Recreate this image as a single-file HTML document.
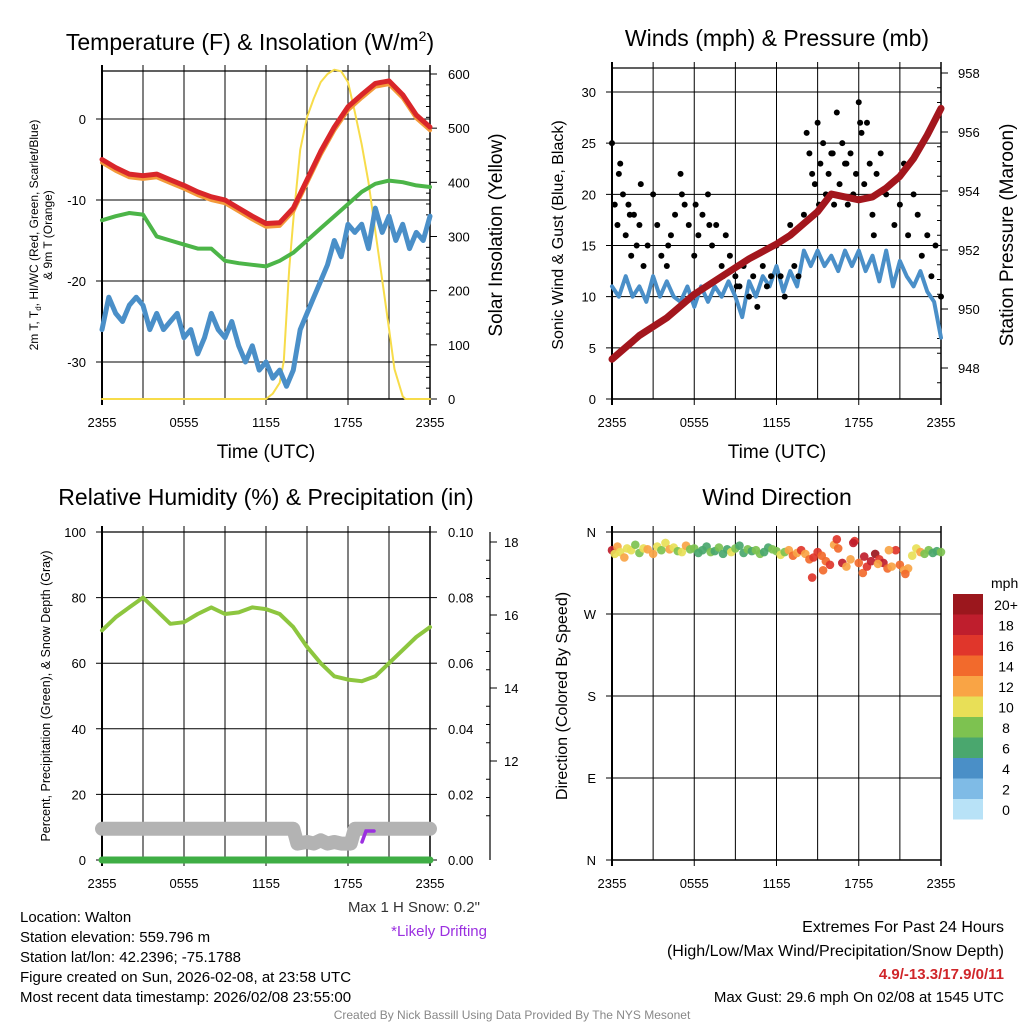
<!DOCTYPE html>
<html><head><meta charset="utf-8"><style>
html,body{margin:0;padding:0;background:#fff}
svg{display:block;font-family:"Liberation Sans",sans-serif}
</style></head><body>
<svg id="c" width="1024" height="1024" viewBox="0 0 1024 1024">
<g id="static"></g>
</svg>
<script>
// ===== data =====
// Panel 1: temperature (F)
const tempHours = [0,1,2,3,4,5,6,7,8,9,10,11,12,13,14,15,16,17,18,19,20,21,22,23,24];
const tempRed = [-5,-6,-6.8,-7,-6.8,-7.5,-8.2,-9,-9.6,-10,-11,-12,-12.9,-12.8,-11,-7.5,-4,-1,1.5,3,4.4,4.7,3,0.5,-1];
const dewGreen = [-12.5,-12,-11.6,-11.8,-14.5,-15,-15.5,-16,-16,-17.5,-17.8,-18,-18.2,-17.5,-16.5,-15,-13.5,-12,-10.5,-9,-8,-7.6,-7.8,-8.2,-8.4];
const wcHours = [0,0.5,1,1.5,2,2.5,3,3.5,4,4.5,5,5.5,6,6.5,7,7.5,8,8.5,9,9.5,10,10.5,11,11.5,12,12.5,13,13.5,14,14.5,15,15.5,16,16.5,17,17.5,18,18.5,19,19.5,20,20.5,21,21.5,22,22.5,23,23.5,24];
const wcBlue = [-26,-22,-24,-25,-23,-22,-23,-26,-24,-26,-25,-24,-27,-26,-29,-27,-24,-26,-27,-25,-28,-30,-28,-31,-30,-32,-31,-33,-31,-26,-24,-22,-20,-18,-15,-17,-13,-14,-13,-16,-11,-14,-12,-15,-13,-16,-14,-15,-12];
const solHours = [0,12,12.5,13,13.3,13.7,14,14.5,15,15.5,16,16.5,17,17.5,18,18.5,19,19.5,20,20.5,21,21.4,22,22.2,24];
const solar = [0,0,10,30,70,240,330,460,520,555,585,600,608,605,585,530,470,400,310,220,130,55,5,0,0];
// Panel 2: wind & pressure
const windHours = wcHours;
const windBlue = [11,10,12,10,11,9.5,12,10,11.5,10,9.5,11,9,11,9.5,11,10,11.5,10,8,11.5,10,12,11,13,10.5,12.5,11,14.5,13,14.5,13,14,12.5,14.5,13,14.5,12.5,14,11.5,14.5,11,13.5,12,11,12.5,10.5,9.5,6];
const presHours = [0,2,4,6,8,10,12,13,14,15,16,17,18,19,20,21,22,23,24];
const pressure = [948.3,949.1,949.7,950.5,951.1,951.7,952.2,952.5,952.9,953.3,953.9,953.8,953.7,953.8,954.1,954.5,955.1,955.9,956.8];
const gustHours = [0,0.2,0.4,0.6,0.8,1,1.2,1.4,1.6,1.8,2,2.3,2.6,3,3.3,3.6,4,4.3,4.6,5,5.3,5.6,6,6.3,6.6,7,7.3,7.6,8,8.3,8.6,9,9.3,9.6,10,10.3,10.6,11,11.3,11.6,12,12.3,12.6,13,13.3,13.6,14,14.2,14.4,14.6,14.8,15,15.2,15.4,15.6,15.8,16,16.2,16.4,16.6,16.8,17,17.2,17.4,17.6,17.8,18,18.2,18.4,18.6,18.8,19,19.3,19.6,20,20.3,20.6,21,21.3,21.6,22,22.3,22.6,23,23.3,23.6,24,0.5,1.3,2.1,4.1,5.1,6.1,7.1,8.1,9.1,15.1,16.1,17.1,18.1,19.1];
const gustVals = [25,19,17,23,20,16,19,14,18,15,17,13,15,20,17,14,13,16,18,22,19,17,14,16,18,20,15,17,13,16,14,12,11,13,10,12,9,13,11,12,15,12,10,17,13,12,18,26,24,22,21,27,23,25,20,22,24,19,28,21,25,23,19,24,20,22,29,26,21,27,23,18,22,24,20,21,17,19,23,16,20,18,14,16,12,15,10,22,18,21,15,20,19,17,12,11,19,24,23,27,16];
// Panel 3: RH, precip, snow
const rhHours = tempHours;
const rh = [70,74,77,80,76,72,72.5,75,77,75,75.5,77,76.5,75,71,65,60,56,55,54.5,56,60,64,68,71];
const snowHours = [0,14,14.3,15,15.5,16,16.5,17,17.5,18.2,18.5,24];
const snowDepthPct = [9.5,9.5,5,5.5,5,6,5,5.5,5,5,9.5,9.5];
const precipHours = [0,24];
const precip = [0,0];
// Panel 4: direction dots [hour, dir deg, speed mph]
const dirHours = [0,0.2,0.4,0.6,0.9,1.1,1.4,1.7,2,2.3,2.6,3,3.3,3.6,3.9,4.2,4.5,4.8,5.1,5.4,5.7,6,6.3,6.6,6.9,7.2,7.5,7.8,8.1,8.4,8.7,9,9.3,9.6,9.9,10.2,10.5,10.8,11.1,11.4,11.7,12,12.3,12.6,12.9,13.2,13.5,13.8,14.1,14.4,14.7,15,15.3,15.6,15.9,16.2,16.5,16.8,17.1,17.4,17.7,18,18.3,18.6,18.9,19.2,19.5,19.8,20.1,20.4,20.7,21,21.3,21.6,21.9,22.2,22.5,22.8,23.1,23.4,23.7,24,16.4,17.6,18.4,14.6,15.4,19.4,20.2,21.4];
const dirDeg = [340,336,344,338,332,342,340,346,337,342,341,336,344,340,348,341,343,339,338,345,341,342,337,340,344,338,339,343,336,341,338,342,345,337,341,339,340,336,338,343,341,339,335,338,340,334,337,340,336,330,332,338,334,328,324,346,342,326,322,330,350,326,315,322,328,336,330,326,320,322,340,324,318,320,334,342,338,336,340,337,339,338,352,348,333,310,318,325,340,314];
const dirSpd = [18,11,12,10,13,10,11,9,8,10,13,12,11,9,10,12,11,8,10,12,9,8,7,7,6,9,7,8,6,7,10,8,7,6,8,7,9,8,7,6,8,9,10,8,12,14,13,16,13,15,16,17,15,14,16,13,15,18,12,13,17,15,14,16,19,20,17,18,15,13,16,14,13,12,10,11,12,9,8,6,7,8,16,18,19,16,15,12,13,14];
const cbLabels = ["20+","18","16","14","12","10","8","6","4","2","0"];
const cbColors = ["#9b171d","#bf1e2d","#e0362b","#f26a2c","#f9a445","#e8df57","#7dc250","#4aa76e","#4a8fc7","#7fbbe6","#b8e2f7"];
const xTickLabels = ["2355","0555","1155","1755","2355"];

// ===== helpers =====
const NS="http://www.w3.org/2000/svg";
const svg=document.getElementById('c');
function mk(tag,attrs,parent){const e=document.createElementNS(NS,tag);for(const k in attrs)e.setAttribute(k,attrs[k]);(parent||svg).appendChild(e);return e;}
function txt(s,x,y,size,anchor,name,extra){const e=mk('text',Object.assign({x:x,y:y,'font-size':size,'text-anchor':anchor||'start',fill:'#000'},extra||{}));e.textContent=s;


return e;}
function line(x1,y1,x2,y2,stroke,w,name){const e=mk('line',{x1:x1,y1:y1,x2:x2,y2:y2,stroke:stroke,'stroke-width':w});


return e;}
function poly(xs,ys,fx,fy,stroke,w,name){const d=xs.map((h,i)=>fx(h).toFixed(1)+','+fy(ys[i]).toFixed(1)).join(' ');const e=mk('polyline',{points:d,fill:'none',stroke:stroke,'stroke-width':w,'stroke-linejoin':'round','stroke-linecap':'round'});


return e;}
function frame(x0,y0,x1,y1,name){
  for(let i=1;i<8;i++){const x=x0+(x1-x0)*i/8;line(x,y0-6,x,y1,'#000',1,name+'-vgrid');}
  line(x0,y0,x1,y0,'#000',1.2,name+'-top-border');
  line(x0,y1,x1,y1,'#000',1.5,name+'-bottom-axis');
  line(x0,y0-6,x0,y1+6,'#000',2,name+'-left-axis');
  line(x1,y0-6,x1,y1+6,'#000',1.5,name+'-right-axis');
  xTickLabels.forEach((s,i)=>{const x=x0+(x1-x0)*i/4;line(x,y1,x,y1+6,'#000',1,name+'-xtick');txt(s,x,y1+28,13,'middle',name+'-xtick-label');});
}
// ===== Panel 1 =====
const P1={x0:102,x1:430,yT:71};
const x1f=h=>P1.x0+h/24*(P1.x1-P1.x0);
const t1=v=>119-v*8.1;
const s1=v=>399-v*325/600;
frame(102,71,430,399,'temp-panel');
[0,-10,-20,-30].forEach(v=>{line(96,t1(v),430,t1(v),'#000',1,'temp-hgrid');txt(String(v),86,t1(v)+5,13,'end','temp-ytick-label');});
[0,100,200,300,400,500,600].forEach(v=>{line(430,s1(v),437,s1(v),'#000',1,'solar-tick');txt(String(v),448,s1(v)+5,13,'start','solar-ytick-label');});
for(let v=20;v<611;v+=20){if(v%100)line(430,s1(v),426,s1(v),'#000',1,'solar-minor-tick');}
poly(solHours,solar,x1f,s1,'#f7dc4a',2,'solar-insolation-line');
poly(wcHours,wcBlue,x1f,t1,'#4a8fc8',5,'windchill-line');
poly(tempHours,dewGreen,x1f,t1,'#4cb548',4,'dewpoint-line');
poly(tempHours,tempRed.map(v=>v-0.4),x1f,t1,'#f39a3a',4,'temp-9m-line');
poly(tempHours,tempRed,x1f,t1,'#d9262a',5,'temp-2m-line');
txt('Temperature (F) & Insolation (W/m',250,50,23,'middle','temp-panel-title').innerHTML='Temperature (F) &amp; Insolation (W/m<tspan font-size="14" dy="-9">2</tspan><tspan dy="9">)</tspan>';
txt('Time (UTC)',266,458,19,'middle','temp-x-title');
txt('Solar Insolation (Yellow)',502,235,19,'middle','solar-y-title',{transform:'rotate(-90 502 235)'});
const yl=txt('',0,0,12,'middle','temp-y-title',{transform:'translate(38 235) rotate(-90)'});
yl.innerHTML='2m T, T<tspan font-size="8" dy="3">d</tspan><tspan dy="-3">, HI/WC (Red, Green, Scarlet/Blue)</tspan>';
txt('& 9m T (Orange)',52,235,12,'middle','temp-y-title-2',{transform:'rotate(-90 52 235)'});

// ===== Panel 2 =====
const x2f=h=>612+h/24*(941-612);
const w2=v=>399-v*307/30;
const p2=v=>368-(v-948)*29.5;
frame(612,68,941,399,'wind-panel');
[0,5,10,15,20,25,30].forEach(v=>{line(606,w2(v),941,w2(v),'#000',1,'wind-hgrid');txt(String(v),596,w2(v)+5,13,'end','wind-ytick-label');});
[948,950,952,954,956,958].forEach(v=>{line(941,p2(v),948,p2(v),'#000',1,'pressure-tick');txt(String(v),958,p2(v)+5,13,'start','pressure-ytick-label');});
for(let v=947.5;v<958.2;v+=0.5){if(v%2)line(941,p2(v),937,p2(v),'#000',1,'pressure-minor-tick');}
poly(windHours,windBlue,x2f,w2,'#4a8fc8',4,'sonic-wind-line');
gustHours.forEach((h,i)=>{const c=mk('circle',{cx:x2f(h),cy:w2(gustVals[i]),r:3,fill:'#000'});

});
poly(presHours,pressure,x2f,p2,'#a3161d',7,'pressure-line');
txt('Winds (mph) & Pressure (mb)',777,46,23,'middle','wind-panel-title');
txt('Time (UTC)',777,458,19,'middle','wind-x-title');
txt('Sonic Wind & Gust (Blue, Black)',563,235,16,'middle','wind-y-title',{transform:'rotate(-90 563 235)'});
txt('Station Pressure (Maroon)',1013,235,19,'middle','pressure-y-title',{transform:'rotate(-90 1013 235)'});

// ===== Panel 3 =====
const x3f=h=>102+h/24*(430-102);
const r3=v=>860-v*3.28;
const sn=v=>761-(v-12)*36.5;
frame(102,532,430,860,'rh-panel');
[0,20,40,60,80,100].forEach(v=>{line(96,r3(v),430,r3(v),'#000',1,'rh-hgrid');txt(String(v),86,r3(v)+5,13,'end','rh-ytick-label');});
['0.00','0.02','0.04','0.06','0.08','0.10'].forEach((s,i)=>{const y=r3(i*20);line(430,y,437,y,'#000',1,'precip-tick');txt(s,448,y+5,13,'start','precip-ytick-label');});
line(490,532,490,860,'#000',1.2,'snow-axis');
[12,14,16,18].forEach(v=>{line(490,sn(v),497,sn(v),'#000',1,'snow-tick');txt(String(v),504,sn(v)+5,13,'start','snow-ytick-label');});
for(let v=10.5;v<18.3;v+=0.5){if(v%2)line(490,sn(v),486,sn(v),'#000',1,'snow-minor-tick');}
poly(snowHours,snowDepthPct,x3f,r3,'#b3b3b3',14,'snow-depth-line');
poly(precipHours,precip,x3f,r3,'#3fae45',7,'precip-line');
poly(rhHours,rh,x3f,r3,'#8dc63f',4,'rh-line');
const pu=mk('polyline',{points:'362,842 366,831 374,831',fill:'none',stroke:'#9b30e0','stroke-width':3.5,'stroke-linecap':'round'});


txt('Relative Humidity (%) & Precipitation (in)',266,505,23,'middle','rh-panel-title');
txt('Percent, Precipitation (Green), & Snow Depth (Gray)',50,696,12.5,'middle','rh-y-title',{transform:'rotate(-90 50 696)'});
txt('Max 1 H Snow: 0.2"',480,912,15,'end','max-snow-text',{fill:'#333'});
txt('*Likely Drifting',487,936,15,'end','drifting-note',{fill:'#9b30e0'});

// ===== Panel 4 =====
const x4f=h=>612+h/24*(941-612);
const d4=v=>532+(360-v)/90*82;
frame(612,532,941,860,'direction-panel');
[['N',360],['W',270],['S',180],['E',90],['N',0]].forEach(([s,v])=>{line(606,d4(v),941,d4(v),'#000',1,'direction-hgrid');txt(s,596,d4(v)+5,13,'end','direction-ytick-label');});
function spdColor(s){let i=Math.min(10,Math.floor(s/2));return cbColors[10-i];}
dirHours.forEach((h,i)=>{const c=mk('circle',{cx:x4f(h),cy:d4(dirDeg[i]),r:4.3,fill:spdColor(dirSpd[i]),'fill-opacity':0.92});

});
txt('Wind Direction',777,505,23,'middle','direction-panel-title');
txt('Direction (Colored By Speed)',567,696,16,'middle','direction-y-title',{transform:'rotate(-90 567 696)'});
txt('mph',991,588,14,'start','colorbar-title');
cbLabels.forEach((s,i)=>{const y=594+i*20.5;const r=mk('rect',{x:953,y:y,width:30,height:20.5,fill:cbColors[i]});


txt(s,1006,y+16,14,'middle','colorbar-label');});

// ===== footer =====
['Location: Walton','Station elevation: 559.796 m','Station lat/lon: 42.2396; -75.1788','Figure created on Sun, 2026-02-08, at 23:58 UTC','Most recent data timestamp: 2026/02/08 23:55:00'].forEach((s,i)=>txt(s,20,922+i*20,15,'start','station-info-line'));
txt('Extremes For Past 24 Hours',1004,932,16,'end','extremes-title');
txt('(High/Low/Max Wind/Precipitation/Snow Depth)',1004,956,16,'end','extremes-subtitle');
txt('4.9/-13.3/17.9/0/11',1004,979,15,'end','extremes-values',{fill:'#d0262a','font-weight':'bold'});
txt('Max Gust: 29.6 mph On 02/08 at 1545 UTC',1004,1002,15,'end','max-gust-text');
txt('Created By Nick Bassill Using Data Provided By The NYS Mesonet',512,1019,12,'middle','credit-text',{fill:'#888'});
</script>
</body></html>
